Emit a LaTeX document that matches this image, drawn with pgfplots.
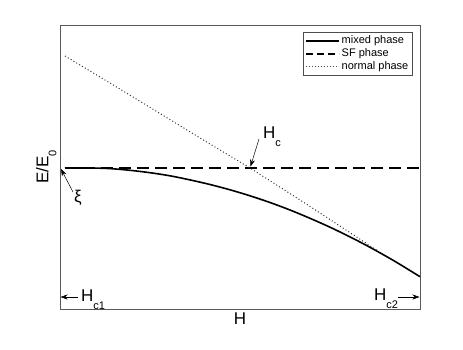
\documentclass[border=0pt]{standalone}
\usepackage{fontspec}
\setmainfont{Liberation Sans}
\usepackage{pgfplots}
\pgfplotsset{compat=1.18}
\usetikzlibrary{arrows.meta}

\newcommand{\lbl}{\fontsize{17}{20}\selectfont}
\newcommand{\sub}[1]{\raisebox{-8pt}{\fontsize{11}{11}\selectfont #1}}

\begin{document}
\begin{tikzpicture}
\begin{axis}[
  name=ax,
  scale only axis,
  width=360pt, height=284pt,
  xmin=60, xmax=420, ymin=0, ymax=284,
  xtick=\empty, ytick=\empty,
  axis line style={black!65, line width=0.8pt},
  clip=false,
  xlabel={H},
  ylabel={E/E\sub{0}},
  label style={font=\lbl},
  legend style={
    at={(0.978,0.975)}, anchor=north east,
    draw=black!70,
    font=\fontsize{11}{12.5}\selectfont,
    cells={anchor=west},
    inner sep=1.5pt, row sep=-0.5pt,
  },
  legend image code/.code={\draw[#1] (0pt,0pt) -- (33pt,0pt);},
]
% mixed phase
\addplot[black, line width=1.6pt, smooth, forget plot] coordinates {
  (65,141) (90,141) (110,140.4) (130,138.7) (150,136.3) (170,133.2) (190,129.1)
  (210,124.5) (230,119.2) (250,113.2) (270,106.5) (290,99) (310,90.7)
  (330,81.8) (350,72.1) (370,61.7) (395,47.6) (420,32.3)
};
% SF phase
\addplot[black, line width=1.6pt, dash pattern=on 11.5pt off 6.5pt, forget plot] coordinates {
  (65,141) (420,141)
};
% normal phase
\addplot[black!80, line width=1pt, dash pattern=on 1pt off 2.3pt, forget plot] coordinates {
  (65,253) (110,226) (160,195.5) (210,165) (250,141) (290,115.5) (330,89.5) (378,58)
};
\addlegendimage{black, line width=2pt}
\addlegendentry{mixed phase}
\addlegendimage{black, line width=2pt, dash pattern=on 7pt off 4pt}
\addlegendentry{SF phase}
\addlegendimage{black!70, line width=1pt, dash pattern=on 1pt off 2pt}
\addlegendentry{normal phase}

% annotations
\draw[-{Stealth[length=7pt,width=5pt]}, line width=0.5pt] (axis cs:259,170) -- (axis cs:250.5,142.5);
\node[anchor=base west, font=\lbl, inner sep=0pt] at (axis cs:263,170.5) {H\sub{c}};

\draw[-{Stealth[length=7pt,width=5pt]}, line width=0.5pt] (axis cs:73,117) -- (axis cs:61,140);
\node[font=\lbl, inner sep=0pt] at (axis cs:78,111) {ξ};

\draw[-{Stealth[length=7pt,width=5pt]}, line width=0.5pt] (axis cs:78,12) -- (axis cs:60.5,12);
\node[anchor=base west, font=\lbl, inner sep=0pt] at (axis cs:81,8) {H\sub{c1}};

\draw[-{Stealth[length=7pt,width=5pt]}, line width=0.5pt] (axis cs:398,12) -- (axis cs:419.5,12);
\node[anchor=base west, font=\lbl, inner sep=0pt] at (axis cs:374,9) {H\sub{c2}};
\end{axis}
\path[use as bounding box] ([shift={(-60pt,-40pt)}]ax.south west) rectangle ([shift={(43pt,25pt)}]ax.north east);
\end{tikzpicture}
\end{document}
